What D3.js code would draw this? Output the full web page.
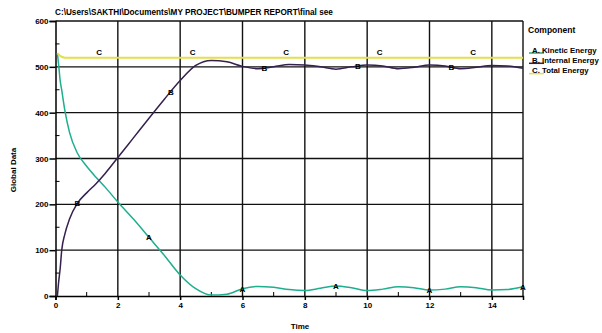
<!DOCTYPE html>
<html>
<head>
<meta charset="utf-8">
<script src="https://cdn.jsdelivr.net/npm/d3@7"></script>
<style>
  body { margin: 0; background: #fff; }
  svg text { font-family: "Liberation Sans", Arial, sans-serif; font-weight: bold; fill: #000; }
</style>
</head>
<body>
<div id="chart"></div>
<script>
const times = [0.06, 0.1, 0.15, 0.2, 0.3, 0.45, 0.7, 1.0, 1.3, 1.6, 2.0, 2.5, 3.0, 3.5, 4.0, 4.5, 5.0, 5.5, 6.0, 6.5, 7.0, 7.5, 8.0, 8.5, 9.0, 9.5, 10.0, 10.5, 11.0, 11.5, 12.0, 12.5, 13.0, 13.5, 14.0, 14.5, 15.0];
const kinetic = [530, 505, 470, 449, 405, 357, 312, 283, 259, 237, 205, 168, 128, 88, 46, 16, 2, 4, 16, 21, 19, 14, 12, 17, 22, 18, 12, 15, 20, 18, 13, 15, 20, 18, 13, 14, 20];
const internal = [0, 30, 60, 100, 135, 168, 202, 225, 245, 268, 302, 345, 388, 430, 470, 503, 514, 511, 501, 496, 500, 505, 504, 500, 495, 500, 504, 502, 496, 499, 504, 502, 496, 499, 503, 502, 497];
const total = [530, 527, 524, 522, 520, 520, 520, 520, 520, 520, 520, 520, 520, 520, 520, 520, 520, 520, 520, 520, 520, 520, 520, 520, 520, 520, 520, 520, 520, 520, 520, 520, 520, 520, 520, 520, 520];

const xTicks = [0, 2, 4, 6, 8, 10, 12, 14];
const xMinor = [1, 3, 5, 7, 9, 11, 13];
const yTicks = [0, 100, 200, 300, 400, 500, 600];
const yMinor = [50, 150, 250, 350, 450, 550];

const series = [
  { key: 'A', name: 'Kinetic Energy', values: kinetic, color: '#1fae8e', labelAt: [3, 6, 9, 12, 15] },
  { key: 'B', name: 'Internal Energy', values: internal, color: '#35204e', labelAt: [0.7, 3.7, 6.7, 9.7, 12.7] },
  { key: 'C', name: 'Total Energy', values: total, color: '#e4e04a', labelAt: [1.4, 4.4, 7.4, 10.4, 13.4] }
];

const title = 'C:\\Users\\SAKTHI\\Documents\\MY PROJECT\\BUMPER REPORT\\final see';

const W = 602, H = 333;
const margin = { top: 21, right: 79, bottom: 37, left: 55.5 };
const width = W - margin.left - margin.right;
const height = H - margin.top - margin.bottom;

const svg = d3.select('#chart').append('svg')
  .attr('width', W).attr('height', H);

const g = svg.append('g')
  .attr('transform', `translate(${margin.left},${margin.top})`);

const x = d3.scaleLinear().domain([0, 15]).range([0, width]);
const y = d3.scaleLinear().domain([0, 600]).range([height, 0]);

// grid
g.selectAll('.vgrid').data(xTicks.filter(d => d > 0)).enter().append('line')
  .attr('x1', d => x(d)).attr('x2', d => x(d))
  .attr('y1', 0).attr('y2', height)
  .attr('stroke', '#111').attr('stroke-width', 1.4);
g.selectAll('.hgrid').data(yTicks.filter(d => d > 0)).enter().append('line')
  .attr('x1', 0).attr('x2', width)
  .attr('y1', d => y(d)).attr('y2', d => y(d))
  .attr('stroke', '#111').attr('stroke-width', 1.4);
// right border
g.append('line').attr('x1', width).attr('x2', width).attr('y1', 0).attr('y2', height)
  .attr('stroke', '#111').attr('stroke-width', 1.4);

// axes
const xAxis = g.append('g').attr('transform', `translate(0,${height})`)
  .call(d3.axisBottom(x).tickValues(xTicks).tickSize(4).tickPadding(2).tickFormat(d3.format('d')));
const yAxis = g.append('g')
  .call(d3.axisLeft(y).tickValues(yTicks).tickSize(6).tickPadding(1).tickFormat(d3.format('d')));
[xAxis, yAxis].forEach(a => {
  a.select('.domain').attr('stroke', '#000').attr('stroke-width', 1.5);
  a.selectAll('.tick line').attr('stroke', '#000').attr('stroke-width', 1.5);
  a.selectAll('text').attr('font-size', 8).attr('font-family', null);
});
// minor ticks pointing inward
g.selectAll('.xminor').data(xMinor).enter().append('line')
  .attr('x1', d => x(d)).attr('x2', d => x(d))
  .attr('y1', height).attr('y2', height - 4)
  .attr('stroke', '#000').attr('stroke-width', 1);
g.selectAll('.yminor').data(yMinor).enter().append('line')
  .attr('x1', 0).attr('x2', 4)
  .attr('y1', d => y(d)).attr('y2', d => y(d))
  .attr('stroke', '#000').attr('stroke-width', 1);

// curves
const line = d3.line()
  .x((d, i) => x(times[i]))
  .y(d => y(d))
  .curve(d3.curveMonotoneX);

series.forEach(s => {
  g.append('path')
    .attr('d', line(s.values))
    .attr('fill', 'none')
    .attr('stroke', s.color)
    .attr('stroke-width', s.key === 'C' ? 2 : 1.5);
});

// letter markers along curves
function valueAt(vals, t) {
  const i = Math.max(1, d3.bisectLeft(times, t));
  if (i >= times.length) return vals[vals.length - 1];
  const t0 = times[i - 1], t1 = times[i];
  const f = (t - t0) / (t1 - t0);
  return vals[i - 1] + f * (vals[i] - vals[i - 1]);
}
series.forEach(s => {
  g.selectAll('.lbl' + s.key).data(s.labelAt).enter().append('text')
    .attr('x', d => x(d))
    .attr('y', d => y(valueAt(s.values, d)) + (s.key === 'C' ? -3 : 3))
    .attr('text-anchor', 'middle')
    .attr('font-size', 8)
    .text(s.key);
});

// title
svg.append('text').attr('x', 55).attr('y', 15).attr('font-size', 8.2).text(title);

// axis titles
svg.append('text').attr('x', 300).attr('y', 329).attr('text-anchor', 'middle')
  .attr('font-size', 8).text('Time');
svg.append('text')
  .attr('transform', 'translate(16,170) rotate(-90)')
  .attr('text-anchor', 'middle').attr('font-size', 8).text('Global Data');

// legend
const legend = svg.append('g').attr('transform', 'translate(527,0)');
legend.append('text').attr('x', 1).attr('y', 33).attr('font-size', 8.5).text('Component');
series.forEach((s, i) => {
  const yy = 53 + i * 10.3;
  legend.append('line').attr('x1', 2).attr('x2', 17).attr('y1', yy).attr('y2', yy)
    .attr('stroke', s.color).attr('stroke-width', 1.5);
  legend.append('text').attr('x', 5).attr('y', yy - 0.5).attr('font-size', 7.8)
    .text(`${s.key}. ${s.name}`);
});
</script>
</body>
</html>
